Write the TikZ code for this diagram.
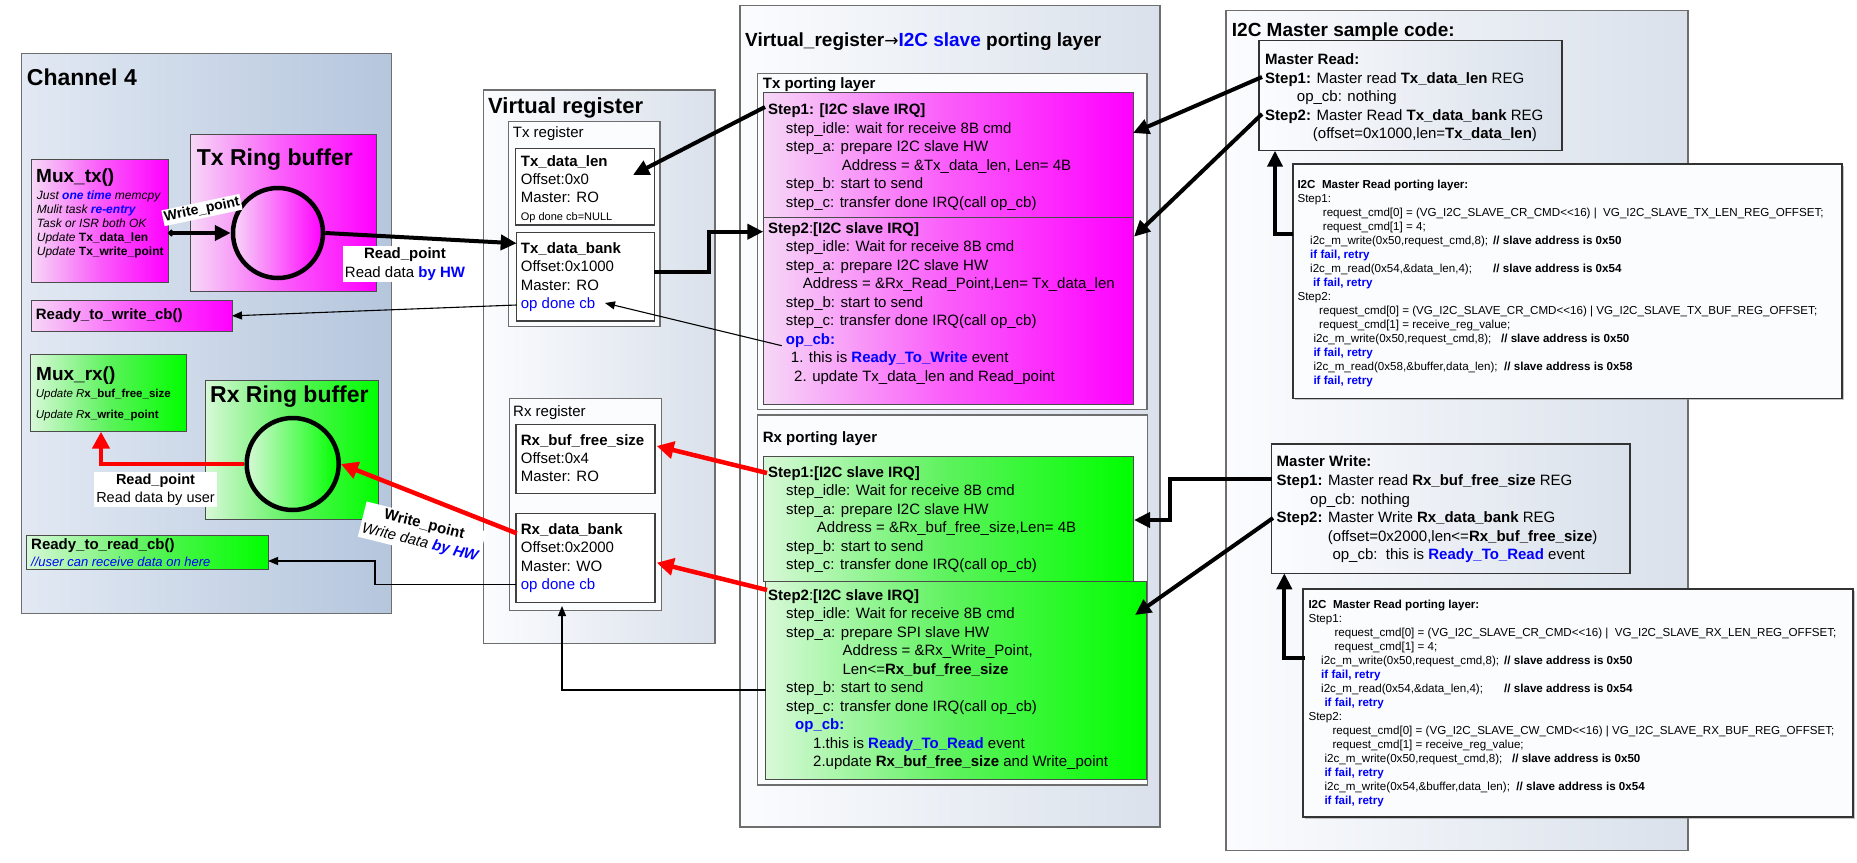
\documentclass[tikz,border=0pt]{standalone}
\usepackage{fontspec}
\setmainfont{Liberation Sans}
\newfontfamily\arrowglyphs{DejaVu Sans}
\usetikzlibrary{arrows.meta,positioning,shadows}
\definecolor{panelhi}{HTML}{E2E9F3}
\definecolor{panello}{HTML}{B5C6DD}
\definecolor{framehi}{HTML}{FBFCFE}
\definecolor{framelo}{HTML}{DAE1EB}
\definecolor{txhi}{HTML}{F6D8F6}
\definecolor{txmid}{HTML}{FA5CFA}
\definecolor{txlo}{HTML}{FF00FF}
\definecolor{rxhi}{HTML}{D8F8D8}
\definecolor{rxmid}{HTML}{5CF25C}
\definecolor{rxlo}{HTML}{00FF00}
\definecolor{hlblue}{HTML}{0000FF}
\definecolor{edge}{HTML}{6E6E6E}
\newcommand\fs[2]{\fontsize{#1}{#2}\selectfont}
\newcommand\hl[1]{\textcolor{hlblue}{\textbf{#1}}}
\begin{document}
\begin{tikzpicture}[x=1pt,y=-1pt,
  panel/.style={draw=edge,line width=1.2pt,left color=panelhi,right color=panello},
  frame/.style={draw=edge,line width=1.2pt,left color=framehi,right color=framelo},
  group/.style={draw=edge,line width=1.2pt,fill=framehi},
  reg/.style={draw=black!75,line width=1.4pt,fill=white},
  txcol/.style={draw=black!70,line width=1pt,left color=txhi,right color=txlo,middle color=txmid},
  rxcol/.style={draw=black!70,line width=1pt,left color=rxhi,right color=rxlo,middle color=rxmid},
  code/.style={draw=black!80,line width=1.2pt,fill=framehi,drop shadow={shadow xshift=2pt,shadow yshift=-2pt,fill=black!45}},
  box/.style={inner sep=0pt,outer sep=0pt,anchor=north west},
  ring/.style={circle,draw,line width=4.5pt,inner sep=0pt},
  txt/.style={inner sep=0pt,anchor=north west,align=left,font=\fs{15}{18.5}},
  head/.style={inner sep=0pt,anchor=north west,font=\fs{19}{22}\bfseries},
  big/.style={inner sep=0pt,anchor=north west,font=\fs{23}{27}\bfseries},
  small/.style={inner sep=0pt,anchor=north west,align=left,font=\fs{12}{14}},
  listing/.style={inner sep=0pt,anchor=north west,align=left,font=\fs{11.6}{14}},
  fat/.style={line width=4pt,-{Triangle[length=16pt,width=15pt]}},
  slim/.style={line width=1.1pt,-{Triangle[length=10pt,width=8pt]}},
  redarr/.style={draw=red,line width=4.5pt,-{Triangle[length=17pt,width=17pt]}}]
\fill[white] (0,0) rectangle (1857,862);
\useasboundingbox (0,0) rectangle (1857,862);

% Channel 4
\node[box,panel,minimum width=370,minimum height=560] (chan) at (21.7,53.3) {};
\node[big] (chantitle) at (26.7,69) {Channel 4};
\node[box,txcol,minimum width=136.6,minimum height=123.7] (muxtx) at (31.7,159) {};
\node[inner sep=0pt,anchor=north west,font=\fs{19}{22}\bfseries] (muxtxtitle) at (36,169) {Mux\_tx()};
\node[small] (muxtxtxt) at (36.7,190.7) {\textit{Just \hl{one time} memcpy}\\\textit{Mulit task \hl{re-entry}}\\\textit{Task or ISR both OK}\\\textit{Update} \textbf{Tx\_data\_len}\\\textit{Update} \textbf{Tx\_write\_point}};
\node[box,txcol,minimum width=185.3,minimum height=157.3] (txringbox) at (190.7,134.3) {};
\node[big] (txringtitle) at (196.7,148.3) {Tx Ring buffer};
\node[ring,left color=txhi,right color=txlo,minimum size=90] (txring) at (278,233) {};
\node[box,txcol,minimum width=201,minimum height=31.7] (rdywr) at (31,300) {};
\node[inner sep=0pt,anchor=west,font=\fs{15}{18}\bfseries,xshift=4.7pt] (rdywrtxt) at (rdywr.west) {Ready\_to\_write\_cb()};
\node[box,rxcol,minimum width=156,minimum height=77.7] (muxrx) at (30.7,354) {};
\node[inner sep=0pt,anchor=north west,font=\fs{19}{22}\bfseries] (muxrxtitle) at (36,367) {Mux\_rx()};
\node[inner sep=0pt,anchor=north west,align=left,font=\fs{11.5}{21}] (muxrxtxt) at (35.7,389) {\textit{Update R}\textbf{x\_buf\_free\_size}\\\textit{Update R}\textbf{x\_write\_point}};
\node[box,rxcol,minimum width=173.5,minimum height=138.3] (rxringbox) at (205,380.7) {};
\node[big] (rxringtitle) at (210,386) {Rx Ring buffer};
\node[ring,left color=rxhi,right color=rxlo,minimum size=92] (rxring) at (292.7,464) {};
\node[box,rxcol,minimum width=242,minimum height=33.5] (rdyrd) at (26,535.5) {};
\node[inner sep=0pt,anchor=north west,align=left,font=\fs{15}{17}] (rdyrdtxt) at (31,538) {\textbf{Ready\_to\_read\_cb()}\\{\fs{13}{17}\textcolor{hlblue}{\textit{//user can receive data on here}}}};

% Virtual register
\node[box,frame,minimum width=231.7,minimum height=553.3] (vreg) at (483.3,90) {};
\node[inner sep=0pt,anchor=north west,font=\fs{22}{26}\bfseries] (vregtitle) at (488,97.3) {Virtual register};
\node[box,group,minimum width=151.7,minimum height=205] (txreg) at (508.3,121.7) {};
\node[txt] (txregtxt) at (512.7,126) {Tx register};
\node[box,reg,minimum width=138.6,minimum height=76.7] (txlen) at (515.7,148.3) {};
\node[txt,font=\fs{15}{18}] (txlentxt) at (520.7,155) {\textbf{Tx\_data\_len}\\Offset:0x0\\Master: RO\\{\fs{11}{18}Op done cb=NULL}};
\node[box,reg,minimum width=137.6,minimum height=88.3] (txbank) at (516.7,232.7) {};
\node[txt,font=\fs{15}{18.3}] (txbanktxt) at (520.7,242.5) {\textbf{Tx\_data\_bank}\\Offset:0x1000\\Master: RO\\\textcolor{hlblue}{op done cb}};
\node[box,group,minimum width=152.4,minimum height=212.4] (rxreg) at (509.3,398.3) {};
\node[txt] (rxregtxt) at (513,405) {Rx register};
\node[box,reg,minimum width=139,minimum height=69] (rxfree) at (516,424.3) {};
\node[txt,font=\fs{15}{18.3}] (rxfreetxt) at (520.7,434.2) {\textbf{Rx\_buf\_free\_size}\\Offset:0x4\\Master: RO};
\node[box,reg,minimum width=139,minimum height=89] (rxbank) at (516,513.3) {};
\node[txt,font=\fs{15}{18.3}] (rxbanktxt) at (520.7,523.5) {\textbf{Rx\_data\_bank}\\Offset:0x2000\\Master: WO\\\textcolor{hlblue}{op done cb}};

% porting layer
\node[box,frame,minimum width=420,minimum height=821.3] (port) at (740,5.7) {};
\node[head] (porttitle) at (745,33) {Virtual\_register{\arrowglyphs\mdseries\fs{17}{22}\raisebox{0.5pt}{→}}\textcolor{hlblue}{I2C slave} porting layer};
\node[box,group,minimum width=389.3,minimum height=336] (txport) at (757.7,73.3) {};
\node[txt,font=\fs{15}{18}\bfseries] (txporttxt) at (762.7,77.5) {Tx porting layer};
\node[box,txcol,minimum width=369.7,minimum height=125] (txstepA) at (763.3,92.7) {};
\node[box,txcol,minimum width=369.7,minimum height=186.3] (txstepB) at (763.3,217.7) {};
\node[txt] (txAtxt) at (768,103.5) {\textbf{Step1: [I2C slave IRQ]}\\
  \hspace*{17.7pt}step\_idle: wait for receive 8B cmd\\
  \hspace*{17.7pt}step\_a: prepare I2C slave HW\\
  \hspace*{73.7pt}Address = \&Tx\_data\_len, Len= 4B\\
  \hspace*{17.7pt}step\_b: start to send\\
  \hspace*{17.7pt}step\_c: transfer done IRQ(call op\_cb)};
\node[txt] (txBtxt) at (768,222) {\textbf{Step2}:\textbf{[I2C slave IRQ]}\\
  \hspace*{17.7pt}step\_idle: Wait for receive 8B cmd\\
  \hspace*{17.7pt}step\_a: prepare I2C slave HW\\
  \hspace*{34.7pt}Address = \&Rx\_Read\_Point,Len= Tx\_data\_len\\
  \hspace*{17.7pt}step\_b: start to send\\
  \hspace*{17.7pt}step\_c: transfer done IRQ(call op\_cb)\\
  \hspace*{17.7pt}\hl{op\_cb:}\\
  \hspace*{22.7pt}1. this is \hl{Ready\_To\_Write} event\\
  \hspace*{26pt}2. update Tx\_data\_len and Read\_point};
\node[box,group,minimum width=389.6,minimum height=370] (rxport) at (757.7,415) {};
\node[txt,font=\fs{15}{18}\bfseries] (rxporttxt) at (762.7,431) {Rx porting layer};
\node[box,rxcol,minimum width=369.7,minimum height=125] (rxstepA) at (763.3,456) {};
\node[box,rxcol,minimum width=381,minimum height=198] (rxstepB) at (765.7,581) {};
\node[txt] (rxAtxt) at (768,466) {\textbf{Step1:[I2C slave IRQ]}\\
  \hspace*{18pt}step\_idle: Wait for receive 8B cmd\\
  \hspace*{18pt}step\_a: prepare I2C slave HW\\
  \hspace*{48.7pt}Address = \&Rx\_buf\_free\_size,Len= 4B\\
  \hspace*{18pt}step\_b: start to send\\
  \hspace*{18pt}step\_c: transfer done IRQ(call op\_cb)};
\node[txt] (rxBtxt) at (768,589.2) {\textbf{Step2}:\textbf{[I2C slave IRQ]}\\
  \hspace*{18pt}step\_idle: Wait for receive 8B cmd\\
  \hspace*{18pt}step\_a: prepare SPI slave HW\\
  \hspace*{74.3pt}Address = \&Rx\_Write\_Point,\\
  \hspace*{74.3pt}Len<=\textbf{Rx\_buf\_free\_size}\\
  \hspace*{18pt}step\_b: start to send\\
  \hspace*{18pt}step\_c: transfer done IRQ(call op\_cb)\\
  \hspace*{27pt}\hl{op\_cb:}\\
  \hspace*{45pt}1.this is \hl{Ready\_To\_Read} event\\
  \hspace*{45pt}2.update \textbf{Rx\_buf\_free\_size} and Write\_point};

% I2C master
\node[box,frame,minimum width=462,minimum height=840] (master) at (1226,10.7) {};
\node[head] (mastertitle) at (1231.7,23) {I2C Master sample code:};
\node[box,frame,draw=black!80,minimum width=303,minimum height=110] (mread) at (1259,40.7) {};
\node[txt] (mreadtxt) at (1265,53.5) {\textbf{Master Read:}\\
  \textbf{Step1:} Master read \textbf{Tx\_data\_len} REG\\
  \hspace*{31.7pt}op\_cb: nothing\\
  \textbf{Step2:} Master Read \textbf{Tx\_data\_bank} REG\\
  \hspace*{47.7pt}(offset=0x1000,len=\textbf{Tx\_data\_len})};
\node[box,code,minimum width=549,minimum height=234.3] (code1) at (1293,164) {};
\node[listing] (code1txt) at (1297.3,179.8) {\textbf{I2C\ \ Master Read porting layer:}\\
  Step1:\\
  \hspace*{25.4pt}request\_cmd[0] = (VG\_I2C\_SLAVE\_CR\_CMD<{}<16) |\ \ VG\_I2C\_SLAVE\_TX\_LEN\_REG\_OFFSET;\\
  \hspace*{25.4pt}request\_cmd[1] = 4;\\
  \hspace*{12.7pt}\makebox[183pt][l]{i2c\_m\_write(0x50,request\_cmd,8);}\textbf{// slave address is 0x50}\\
  \hspace*{12.7pt}\hl{if fail, retry}\\
  \hspace*{12.7pt}\makebox[183pt][l]{i2c\_m\_read(0x54,\&data\_len,4);}\textbf{// slave address is 0x54}\\
  \hspace*{15.7pt}\hl{if fail, retry}\\
  Step2:\\
  \hspace*{21.7pt}request\_cmd[0] = (VG\_I2C\_SLAVE\_CR\_CMD<{}<16) | VG\_I2C\_SLAVE\_TX\_BUF\_REG\_OFFSET;\\
  \hspace*{21.7pt}request\_cmd[1] = receive\_reg\_value;\\
  \hspace*{16pt}i2c\_m\_write(0x50,request\_cmd,8);\ \ \ \textbf{// slave address is 0x50}\\
  \hspace*{16pt}\hl{if fail, retry}\\
  \hspace*{16pt}i2c\_m\_read(0x58,\&buffer,data\_len);\ \ \textbf{// slave address is 0x58}\\
  \hspace*{16pt}\hl{if fail, retry}};
\node[box,frame,draw=black!80,minimum width=358.3,minimum height=129.3] (mwrite) at (1271.7,444) {};
\node[txt,font=\fs{15}{18.6}] (mwritetxt) at (1276.5,455.9) {\textbf{Master Write:}\\
  \textbf{Step1:} Master read \textbf{Rx\_buf\_free\_size} REG\\
  \hspace*{33.5pt}op\_cb: nothing\\
  \textbf{Step2:} Master Write \textbf{Rx\_data\_bank} REG\\
  \hspace*{51.2pt}(offset=0x2000,len<=\textbf{Rx\_buf\_free\_size})\\
  \hspace*{55.8pt}op\_cb:\ \ this is \hl{Ready\_To\_Read} event};
\node[box,code,minimum width=550,minimum height=228] (code2) at (1303,589) {};
\node[listing] (code2txt) at (1308.3,600) {\textbf{I2C\ \ Master Read porting layer:}\\
  Step1:\\
  \hspace*{26pt}request\_cmd[0] = (VG\_I2C\_SLAVE\_CR\_CMD<{}<16) |\ \ VG\_I2C\_SLAVE\_RX\_LEN\_REG\_OFFSET;\\
  \hspace*{26pt}request\_cmd[1] = 4;\\
  \hspace*{12.7pt}\makebox[183pt][l]{i2c\_m\_write(0x50,request\_cmd,8);}\textbf{// slave address is 0x50}\\
  \hspace*{12.7pt}\hl{if fail, retry}\\
  \hspace*{12.7pt}\makebox[183pt][l]{i2c\_m\_read(0x54,\&data\_len,4);}\textbf{// slave address is 0x54}\\
  \hspace*{16pt}\hl{if fail, retry}\\
  Step2:\\
  \hspace*{24pt}request\_cmd[0] = (VG\_I2C\_SLAVE\_CW\_CMD<{}<16) | VG\_I2C\_SLAVE\_RX\_BUF\_REG\_OFFSET;\\
  \hspace*{24pt}request\_cmd[1] = receive\_reg\_value;\\
  \hspace*{16pt}i2c\_m\_write(0x50,request\_cmd,8);\ \ \ \textbf{// slave address is 0x50}\\
  \hspace*{16pt}\hl{if fail, retry}\\
  \hspace*{16pt}i2c\_m\_write(0x54,\&buffer,data\_len);\ \ \textbf{// slave address is 0x54}\\
  \hspace*{16pt}\hl{if fail, retry}};

% connector ends
\coordinate (lenhit) at (633,175);
\coordinate (txS1) at (765,107);
\coordinate (bankin) at (516.7,243.3);
\coordinate (bankout) at (654.3,271.7);
\coordinate (txS2) at (763.3,231.7);
\coordinate (txopcb) at (781.7,345.7);
\coordinate (txdone) at (605,303);
\coordinate (txbankcb) at (516.7,305);
\coordinate (rxS1) at (767,473);
\coordinate (freehit) at (656.7,446);
\coordinate (rxS2) at (767,590);
\coordinate (bankhit) at (656.7,562.7);
\coordinate (bankleft) at (516.7,533.3);
\coordinate (muxrxin) at (101,431.7);
\coordinate (rxstepcb) at (765.7,690);
\coordinate (rxdone) at (562,606);
\coordinate (rxbankcb) at (516,584.3);
\coordinate (rdyrdin) at (268,561);
\coordinate (mrS1) at (1262,77);
\coordinate (txAin) at (1133,133);
\coordinate (mrS2) at (1262,114);
\coordinate (txBin) at (1134,236.7);
\coordinate (code1in) at (1293,234);
\coordinate (mreadin) at (1275,150.7);
\coordinate (mwS1) at (1272,479);
\coordinate (rxAin) at (1134,520);
\coordinate (mwS2) at (1273,518);
\coordinate (rxBin) at (1135,615);
\coordinate (code2in) at (1305,658.3);
\coordinate (mwritein) at (1284.3,573.3);

% labels on the links
\node[rotate=12,fill=white,inner sep=1.5pt,font=\fs{14}{16}\bfseries] (wrlabel) at (202,210) {Write\_point};
\node[fill=white,inner sep=2pt,align=center,font=\fs{15}{18.3}] (rdhwlabel) at (405,264) {\textbf{Read\_point}\\Read data \hl{by HW}};
\node[fill=white,inner sep=2pt,align=center,font=\fs{14.5}{18.3}] (rdlabel) at (155.5,489.5) {\textbf{Read\_point}\\Read data by user};
\node[rotate=-14,fill=white,inner sep=2pt,align=center,font=\fs{15}{18.3}] (wrhwlabel) at (422,534) {\textbf{Write\_point}\\\textit{Write data \hl{by HW}}};

% links
\draw[fat,{Circle[length=6pt]}-{Triangle[length=16pt,width=15pt]}] (muxtx.east |- txring.west) -- (txring.west);
\draw[fat] (txring.east) -- (bankin);
\draw[fat] (txS1) -- (lenhit);
\draw[fat] (bankout) -- ++(55,0) |- (txS2);
\draw[slim] (txopcb) -- (txdone);
\draw[slim] (txbankcb) -- (rdywr.east);
\draw[redarr] (rxS1) -- (freehit);
\draw[redarr] (rxS2) -- (bankhit);
\draw[redarr] (bankleft) -- (rxring.east);
\draw[redarr] (rxring.west) -| (muxrxin);
\draw[slim] (rxstepcb) -| (rxdone);
\draw[slim] (rxbankcb) -- ++(-141,0) |- (rdyrdin);
\draw[fat] (mrS1) -- (txAin);
\draw[fat] (mrS2) -- (txBin);
\draw[fat] (code1in) -| (mreadin);
\draw[fat] (mwS1) -- ++(-102,0) |- (rxAin);
\draw[fat] (mwS2) -- (rxBin);
\draw[fat] (code2in) -| (mwritein);
\end{tikzpicture}
\end{document}
